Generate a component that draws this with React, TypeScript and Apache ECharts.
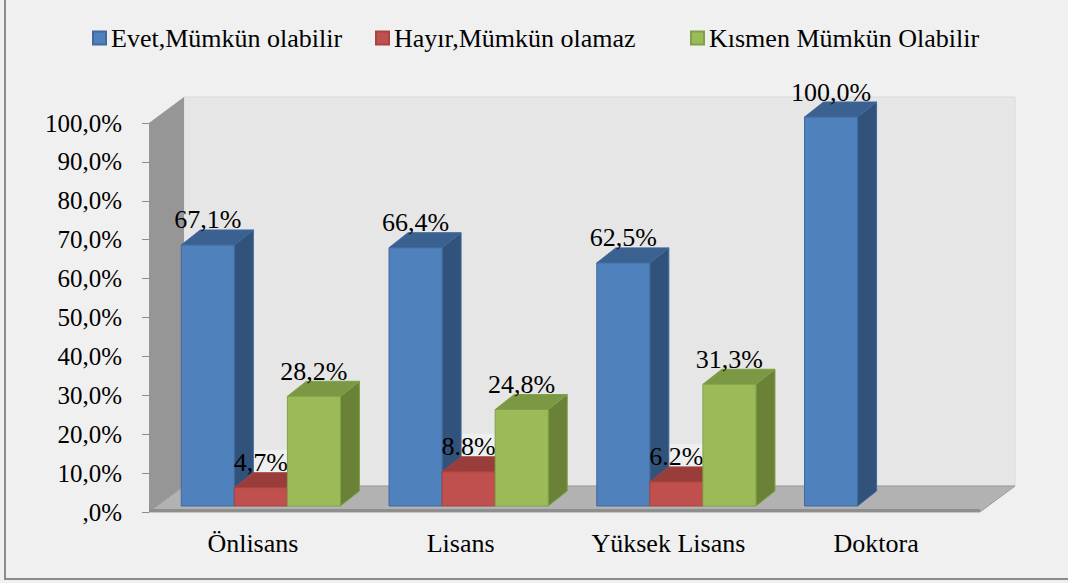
import React, { useEffect, useRef } from "react";
import * as echarts from "echarts";

const categories = ["Önlisans", "Lisans", "Yüksek Lisans", "Doktora"];
const seriesNames = ["Evet,Mümkün olabilir", "Hayır,Mümkün olamaz", "Kısmen Mümkün Olabilir"];
const evet = [67.1, 66.4, 62.5, 100.0];
const hayir = [4.7, 8.8, 6.2, null];
const kismen = [28.2, 24.8, 31.3, null];
const evetLabels = ["67,1%", "66,4%", "62,5%", "100,0%"];
const hayirLabels = ["4,7%", "8.8%", "6.2%", ""];
const kismenLabels = ["28,2%", "24,8%", "31,3%", ""];
const yTickLabels = [",0%", "10,0%", "20,0%", "30,0%", "40,0%", "50,0%", "60,0%", "70,0%", "80,0%", "90,0%", "100,0%"];

const FONT = "Liberation Serif";
const WALL_DX = 35;
const WALL_DY = 26;
const BAR_OFF_DX = 8;
const BAR_OFF_DY = 6;
const BAR_DX = 19;
const BAR_DY = 15;
const BAR_RATIO = 53 / 207.5;
const LEGEND_LEFT = [92, 375, 690];

const palette = [
  { front: "#4f81bd", top: "#3b6191", side: "#31527b", stroke: "#41699b" },
  { front: "#c0504d", top: "#993d3b", side: "#8a3634", stroke: "#a54441" },
  { front: "#9bbb59", top: "#7b9944", side: "#6a8237", stroke: "#82a048" },
];

export default function App() {
  const ref = useRef<HTMLDivElement>(null);
  useEffect(() => {
    if (!ref.current) return;
    const chart = echarts.init(ref.current, null, { renderer: "svg" });
    const valueSets = [evet, hayir, kismen];
    const labelSets = [evetLabels, hayirLabels, kismenLabels];

    const barGeom = (s: number, api: any) => {
      const cat = api.value(0);
      const v = api.value(1);
      if (v == null || isNaN(v)) return null;
      const base = api.coord([cat, 0]);
      const top = api.coord([cat, v]);
      const bw = api.size([1, 0])[0] * BAR_RATIO;
      const xL = base[0] + BAR_OFF_DX + (s - 1.5) * bw;
      const yB = base[1] - BAR_OFF_DY;
      const yT = top[1] - BAR_OFF_DY;
      return { xL, yB, yT, bw };
    };

    const makeBarRender = (s: number) => (params: any, api: any) => {
      const g = barGeom(s, api);
      if (!g) return null;
      const { xL, yB, yT, bw } = g;
      const c = palette[s];
      const label = labelSets[s][params.dataIndex];
      return {
        type: "group",
        children: [
          {
            type: "polygon",
            shape: { points: [[xL + bw, yT], [xL + bw + BAR_DX, yT - BAR_DY], [xL + bw + BAR_DX, yB - BAR_DY], [xL + bw, yB]] },
            style: { fill: c.side, stroke: c.stroke, lineWidth: 1 },
          },
          {
            type: "polygon",
            shape: { points: [[xL, yT], [xL + BAR_DX, yT - BAR_DY], [xL + bw + BAR_DX, yT - BAR_DY], [xL + bw, yT]] },
            style: { fill: c.top, stroke: c.stroke, lineWidth: 1 },
          },
          {
            type: "rect",
            shape: { x: xL, y: yT, width: bw, height: yB - yT },
            style: { fill: c.front, stroke: c.stroke, lineWidth: 1 },
          },
          {
            type: "text",
            style: {
              text: label,
              x: xL + bw / 2,
              y: yT - BAR_DY + 3,
              align: "center",
              verticalAlign: "bottom",
              fontFamily: FONT,
              fontSize: 26,
              fill: "#000",
            },
          },
        ],
      };
    };

    const labelBgRender = (params: any, api: any) => {
      const g = barGeom(1, api);
      if (!g) return null;
      const { xL, yT, bw } = g;
      const cx = xL + bw / 2;
      const bottom = yT - BAR_DY + 1;
      return {
        type: "rect",
        shape: { x: cx - 27, y: bottom - 24, width: 54, height: 24 },
        style: { fill: "#efefef" },
      };
    };

    const wallRender = (params: any, api: any) => {
      const cs = params.coordSys;
      const x0 = cs.x, x1 = cs.x + cs.width, yT = cs.y, yB = cs.y + cs.height;
      return {
        type: "group",
        children: [
          {
            type: "polygon",
            shape: { points: [[x0 + WALL_DX, yT - WALL_DY], [x1 + WALL_DX, yT - WALL_DY], [x1 + WALL_DX, yB - WALL_DY], [x0 + WALL_DX, yB - WALL_DY]] },
            style: { fill: "#e6e6e6", stroke: "#dadada", lineWidth: 1 },
          },
          {
            type: "polygon",
            shape: { points: [[x0, yT], [x0 + WALL_DX, yT - WALL_DY], [x0 + WALL_DX, yB - WALL_DY], [x0, yB]] },
            style: { fill: "#969696" },
          },
          {
            type: "polygon",
            shape: { points: [[x0, yB], [x0 + WALL_DX, yB - WALL_DY], [x1 + WALL_DX, yB - WALL_DY], [x1, yB]] },
            style: { fill: "#b2b2b2", stroke: "#9a9a9a", lineWidth: 1 },
          },
          {
            type: "rect",
            shape: { x: x0, y: yB - 3, width: x1 - x0, height: 3 },
            style: { fill: "#8e8e8e" },
          },
        ],
      };
    };

    const option: any = {
      animation: false,
      backgroundColor: "#f0f0f0",
      textStyle: { fontFamily: FONT },
      graphic: [
        {
          type: "rect",
          shape: { x: 5, y: -10, width: 1200, height: 589 },
          style: { fill: "none", stroke: "#8c8c8c", lineWidth: 2 },
          silent: true,
          z: 100,
        },
      ],
      legend: seriesNames.map((name, i) => ({
        data: [name],
        left: LEGEND_LEFT[i],
        top: 25,
        padding: 0,
        icon: "rect",
        itemWidth: 13,
        itemHeight: 13,
        textStyle: { fontFamily: FONT, fontSize: 26, color: "#000" },
      })),
      grid: { left: 149, right: 88, top: 123, bottom: 71 },
      xAxis: {
        type: "category",
        data: categories,
        axisLine: { show: false },
        axisTick: { show: false },
        axisLabel: { fontFamily: FONT, fontSize: 26, color: "#000", margin: 18 },
      },
      yAxis: {
        type: "value",
        min: 0,
        max: 100,
        interval: 10,
        axisLine: { show: false },
        axisTick: { show: true, length: 7, lineStyle: { color: "#8c8c8c" } },
        splitLine: { show: false },
        axisLabel: {
          fontFamily: FONT,
          fontSize: 25,
          color: "#000",
          margin: 27,
          formatter: (v: number) => yTickLabels[Math.round(v / 10)],
        },
      },
      series: [
        {
          type: "custom",
          name: "walls",
          renderItem: wallRender,
          data: [[0, 0]],
          silent: true,
          z: 1,
        },
        {
          type: "custom",
          name: "labelBg",
          renderItem: labelBgRender,
          data: categories.map((_, i) => [i, hayir[i]]),
          silent: true,
          z: 1,
        },
        ...seriesNames.map((name, s) => ({
          type: "custom",
          name,
          renderItem: makeBarRender(s),
          data: categories.map((_, i) => [i, valueSets[s][i]]),
          itemStyle: { color: palette[s].front, borderColor: palette[s].stroke, borderWidth: 1 },
          z: 2,
        })),
      ],
    };
    chart.setOption(option);
    return () => chart.dispose();
  }, []);
  return (
    <div
      ref={ref}
      style={{ position: "fixed", left: 0, top: 0, width: 1068, height: 583, background: "#f0f0f0" }}
    />
  );
}
